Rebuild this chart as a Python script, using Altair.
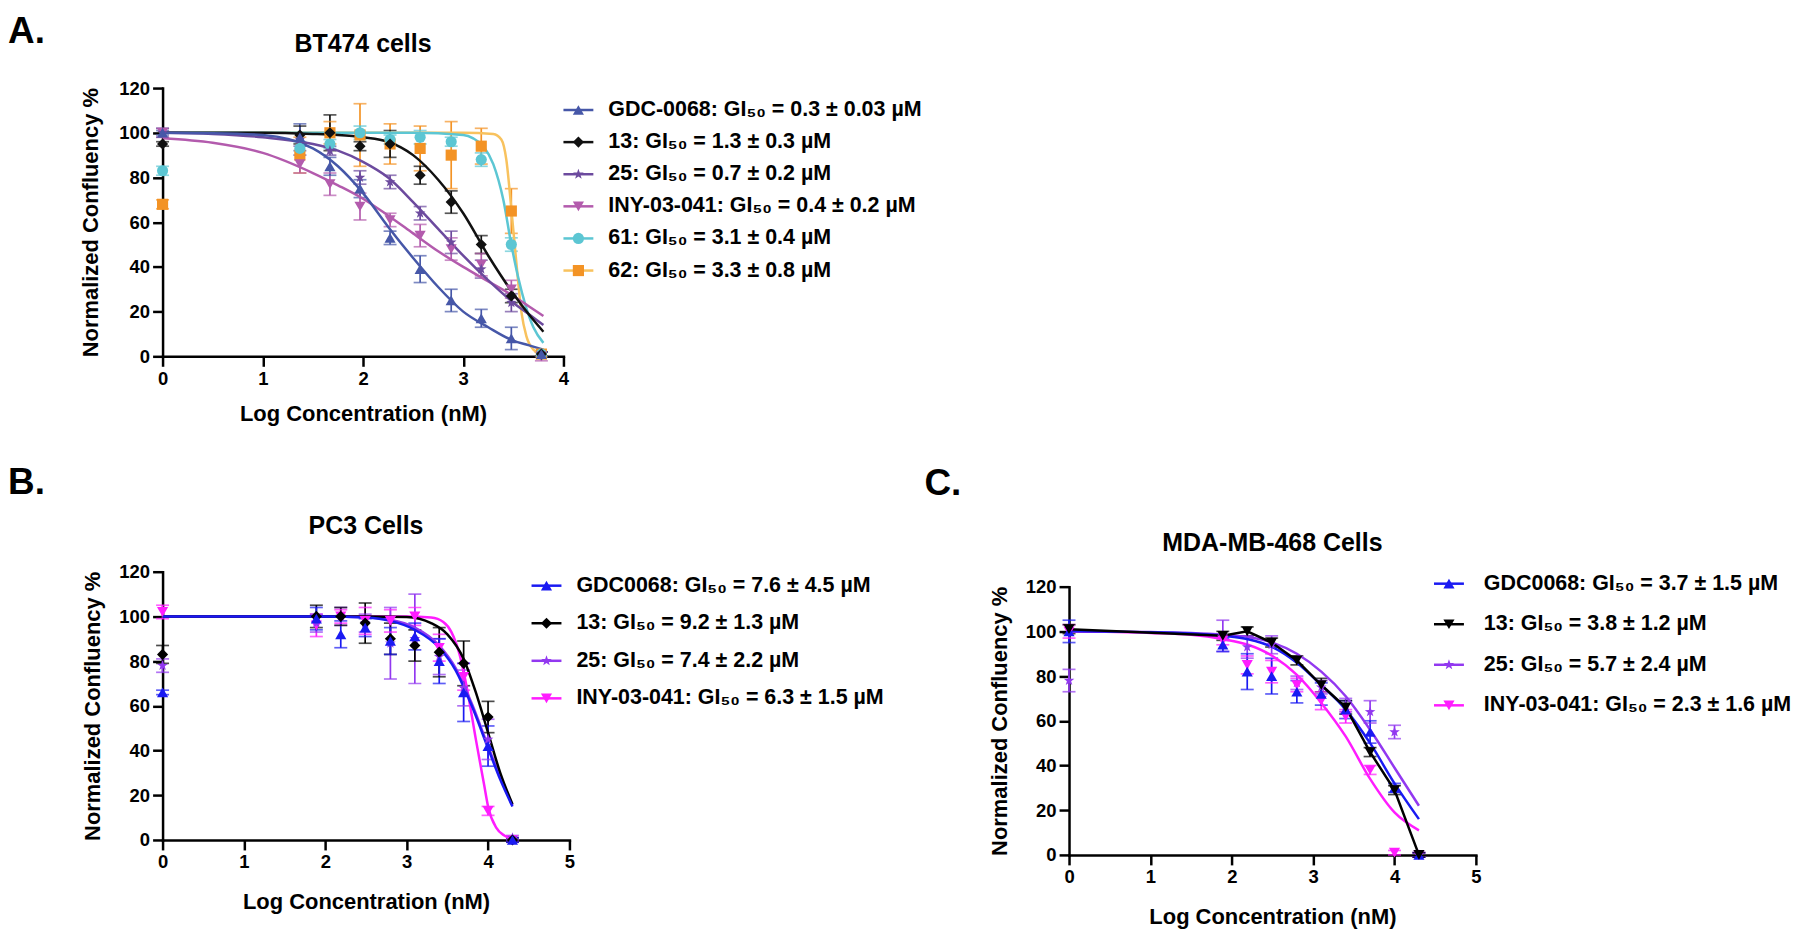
import altair as alt
import pandas as pd

FONT = "Liberation Sans"

# ---------------- shapes ----------------
STAR = "M0,-1L0.235,-0.324L0.951,-0.309L0.38,0.124L0.588,0.809L0,0.4L-0.588,0.809L-0.38,0.124L-0.951,-0.309L-0.235,-0.324Z"

# ---------------- Panel A : BT474 ----------------
A_title = "BT474 cells"
A_series = ["GDC-0068", "13", "25", "INY-03-041", "61", "62"]
A_labels = ["GDC-0068: GI₅₀ = 0.3 ± 0.03 µM", "13: GI₅₀ = 1.3 ± 0.3 µM", "25: GI₅₀ = 0.7 ± 0.2 µM",
            "INY-03-041: GI₅₀ = 0.4 ± 0.2 µM", "61: GI₅₀ = 3.1 ± 0.4 µM", "62: GI₅₀ = 3.3 ± 0.8 µM"]
A_colors = ["#4657A8", "#111111", "#6C4A9E", "#B35BAD", "#5CC6D3", "#F39325"]
A_line_colors = ["#4657A8", "#111111", "#6C4A9E", "#B35BAD", "#5CC6D3", "#F8C25E"]
A_shapes = ["triangle-up", "diamond", STAR, "triangle-down", "circle", "square"]

A_x = [0, 1.37, 1.67, 1.97, 2.27, 2.57, 2.88, 3.18, 3.48, 3.78]
A_gdc_mean = [100, 98, 85, 75, 53, 39, 25, 17, 8, 1]
A_gdc_err = [1, 6, 4, 4, 3, 6, 5, 4, 5, 1]
A_13_mean = [95, 99, 100, 94, 95, 81, 69, 50, 27, 1]
A_13_err = [1, 4, 8, 2, 6, 4, 5, 4, 3, 1]
A_25_mean = [100, 97, 92, 80, 78, 64, 51, 39, 24, 1]
A_25_err = [2, 3, 2, 3, 3, 3, 5, 4, 4, 1]
A_iny_mean = [100, 86, 77, 67, 61, 54, 48, 41, 30, 0]
A_iny_err = [2, 4, 5, 6, 3, 5, 5, 5, 4, 2]
A_61_mean = [83, 93, 95, 100, 97, 98, 96, 88, 50, 1]
A_61_err = [2, 3, 2, 3, 2, 3, 2, 3, 3, 1]
A_62_mean = [68, 90, 100, 99, 95, 93, 90, 94, 65, 1]
A_62_err = [2, 8, 5, 14, 9, 10, 15, 8, 10, 1]

A_fit_x = [0, 0.5, 1.0, 1.5, 1.75, 2.0, 2.25, 2.5, 2.75, 3.0, 3.25, 3.5, 3.65, 3.8]
A_gdc_fit = [100, 99.8, 99, 93, 85, 73, 58, 44, 31, 20, 13, 7, 5, 3]
A_13_fit = [100, 100, 100, 99.5, 99, 98, 96, 90, 79, 64, 45, 28, 19, 11]
A_25_fit = [100, 99.5, 98, 95, 92, 87, 80, 69, 57, 45, 34, 24, 19, 14]
A_iny_fit = [97.5, 95.5, 91, 82, 76.5, 70.5, 63, 55, 47, 40, 33.5, 27, 22.5, 18]
A_61_fit_x = [0, 2.5, 3.0, 3.1, 3.2, 3.3, 3.4, 3.48, 3.55, 3.62, 3.7, 3.8]
A_61_fit = [100, 100, 99, 97.5, 94, 86, 70, 50, 35, 23, 13, 6]
A_62_fit_x = [0, 3.0, 3.3, 3.38, 3.43, 3.48, 3.53, 3.58, 3.63, 3.7, 3.8]
A_62_fit = [100, 100, 99.5, 97, 88, 66, 42, 20, 9, 3, 0.5]

# ---------------- Panel B : PC3 ----------------
B_title = "PC3 Cells"
B_series = ["GDC0068", "13", "25", "INY-03-041"]
B_labels = ["GDC0068: GI₅₀ = 7.6 ± 4.5 µM", "13: GI₅₀ = 9.2 ± 1.3 µM", "25: GI₅₀ = 7.4 ± 2.2 µM",
            "INY-03-041: GI₅₀ = 6.3 ± 1.5 µM"]
B_colors = ["#1A1AF2", "#000000", "#9238F0", "#FF1CFF"]
B_shapes = ["triangle-up", "diamond", STAR, "triangle-down"]

B_x = [0, 1.89, 2.19, 2.49, 2.80, 3.10, 3.40, 3.70, 4.00, 4.30]
B_gdc_mean = [66, 99, 92, 95, 89, 91, 80, 66, 42, 0]
B_gdc_err = [1, 5, 6, 4, 6, 6, 10, 13, 9, 1]
B_13_mean = [83, 100, 100, 97, 90, 87, 84, 79, 55, 0]
B_13_err = [4, 5, 4, 9, 7, 7, 11, 10, 7, 1]
B_25_mean = [78, 97, 100, 97, 88, 90, 82, 68, 45, 1]
B_25_err = [3, 4, 4, 4, 16, 20, 8, 8, 9, 1]
B_iny_mean = [102, 96, 100, 98, 98, 100, 86, 73, 13, 0]
B_iny_err = [3, 5, 3, 6, 5, 4, 6, 6, 2, 1]

B_fit_x = [0, 1, 2, 2.5, 2.8, 3.1, 3.4, 3.6, 3.8, 4.0, 4.15, 4.3]
B_gdc_fit = [100, 100, 100, 99.5, 98, 94, 86, 76, 60, 41, 27, 15]
B_25_fit = [100, 100, 100, 99.6, 98.5, 95, 87, 77, 61, 42, 28, 15.5]
B_13_fit_x = [0, 1, 2, 2.5, 3.0, 3.3, 3.5, 3.7, 3.85, 4.0, 4.15, 4.3]
B_13_fit = [100, 100, 100, 100, 99.7, 97, 92, 81, 66, 48, 30, 16]
B_iny_fit_x = [0, 1, 2, 3.0, 3.3, 3.45, 3.55, 3.65, 3.75, 3.85, 3.95, 4.0, 4.1, 4.2, 4.3]
B_iny_fit = [100, 100, 100, 100, 99.5, 97.5, 93, 83, 66, 45, 25, 15, 5.5, 2, 0.5]

# ---------------- Panel C : MDA-MB-468 ----------------
C_title = "MDA-MB-468 Cells"
C_series = ["GDC0068", "13", "25", "INY-03-041"]
C_labels = ["GDC0068: GI₅₀ = 3.7 ± 1.5 µM", "13: GI₅₀ = 3.8 ± 1.2 µM", "25: GI₅₀ = 5.7 ± 2.4 µM",
            "INY-03-041: GI₅₀ = 2.3 ± 1.6 µM"]
C_colors = ["#1A1AF2", "#000000", "#9238F0", "#FF1CFF"]
C_shapes = ["triangle-up", "triangle-down", STAR, "triangle-down"]

C_x = [0, 1.89, 2.19, 2.49, 2.80, 3.10, 3.40, 3.70, 4.00, 4.30]
C_gdc_mean = [100, 94, 82, 80, 73, 72, 65, 55, 30, 0]
C_gdc_err = [5, 3, 8, 8, 5, 5, 4, 5, 2, 1]
C_13_mean = [101, 98, 100, 95, 87, 76, 66, 46, 29, 0]
C_13_err = [2, 2, 2, 2, 2, 3, 3, 2, 2, 1]
C_25_mean = [78, 98, 93, 94, 77, 75, 67, 64, 55, 0]
C_25_err = [5, 7, 5, 4, 3, 3, 3, 5, 3, 1]
C_iny_mean = [100, 96, 85, 82, 76, 69, 62, 38, 1, 0]
C_iny_err = [3, 2, 4, 5, 3, 4, 3, 2, 1, 1]

C_fit_x = [0, 1, 1.5, 1.9, 2.2, 2.5, 2.8, 3.1, 3.4, 3.7, 4.0, 4.3]
C_gdc_fit = [100, 99.6, 99, 98, 96.5, 93, 86, 76, 65, 50, 32, 16]
C_25_fit = [100, 99.7, 99.3, 98.5, 97.5, 95, 90, 82, 71, 56, 39, 22]
C_iny_fit = [100, 99.3, 98.5, 96.5, 94, 89, 80.5, 68, 53, 34, 19, 11]

Y_TICKS = [0, 20, 40, 60, 80, 100, 120]


def make_panel(series, labels, colors, line_colors, shapes, xs, means, errs, fits, links,
               xmax, width, height, title, title_y, letter, letter_x, letter_y,
               leg_range, leg_x1, leg_x2, leg_xt, draw_order, xpad, ypad):
    rows = []
    for s in draw_order:
        for xv, m, e in zip(xs, means[s], errs[s]):
            rows.append({"series": s, "x": xv, "mean": m, "lo": m - e, "hi": m + e})
    df_pts = pd.DataFrame(rows)

    frows = []
    for s in draw_order:
        if s in fits:
            fx, fy = fits[s]
            for xv, yv in zip(fx, fy):
                frows.append({"series": s, "x": xv, "y": yv})
    df_fit = pd.DataFrame(frows)

    xsc = alt.Scale(domain=[0, xmax], nice=False, zero=False)
    ysc = alt.Scale(domain=[0, 120], nice=False)
    color_enc = alt.Color("series:N", scale=alt.Scale(domain=series, range=colors), legend=None)
    stroke_enc = alt.Stroke("series:N", scale=alt.Scale(domain=series, range=line_colors), legend=None)
    shape_enc = alt.Shape("series:N", scale=alt.Scale(domain=series, range=shapes), legend=None)

    x_axis = alt.Axis(values=list(range(0, xmax + 1)), title="Log Concentration (nM)",
                      titlePadding=xpad, grid=False, labelFlush=False)
    y_axis = alt.Axis(values=Y_TICKS, title="Normalized Confluency %", titlePadding=ypad,
                      grid=False, labelFlush=False)
    xenc = alt.X("x:Q", scale=xsc, axis=x_axis)

    def yenc(field):
        return alt.Y(field, scale=ysc, axis=y_axis)

    err = alt.Chart(df_pts).mark_rule(strokeWidth=1.7).encode(
        x=xenc, y=yenc("lo:Q"), y2="hi:Q", color=color_enc)
    cap_lo = alt.Chart(df_pts).mark_tick(orient="horizontal", size=13, thickness=1.7).encode(
        x=xenc, y=yenc("lo:Q"), color=color_enc)
    cap_hi = alt.Chart(df_pts).mark_tick(orient="horizontal", size=13, thickness=1.7).encode(
        x=xenc, y=yenc("hi:Q"), color=color_enc)
    layers = [err, cap_lo, cap_hi]
    if len(df_fit):
        layers.append(alt.Chart(df_fit).mark_line(strokeWidth=2.5, interpolate="monotone").encode(
            x=xenc, y=yenc("y:Q"), stroke=stroke_enc))
    for s in links:
        df_l = df_pts[df_pts["series"] == s]
        layers.append(alt.Chart(df_l).mark_line(strokeWidth=2.5).encode(
            x=xenc, y=yenc("mean:Q"), stroke=stroke_enc))
    pts = alt.Chart(df_pts).mark_point(filled=True, size=125, opacity=1).encode(
        x=xenc, y=yenc("mean:Q"), color=color_enc, shape=shape_enc)
    layers.append(pts)
    data_layer = alt.layer(*layers)

    df_leg = pd.DataFrame({"series": series, "label": labels})
    yleg = alt.Y("series:N", scale=alt.Scale(type="point", domain=series, range=leg_range, padding=0),
                 axis=None)
    leg_rule = alt.Chart(df_leg).mark_rule(strokeWidth=2.5).encode(
        x=alt.value(leg_x1), x2=alt.value(leg_x2), y=yleg, stroke=stroke_enc)
    leg_pt = alt.Chart(df_leg).mark_point(filled=True, size=125, opacity=1).encode(
        x=alt.value((leg_x1 + leg_x2) / 2), y=yleg, color=color_enc, shape=shape_enc)
    leg_txt = alt.Chart(df_leg).mark_text(align="left", baseline="middle", font=FONT, fontSize=21.5,
                                          fontWeight="bold", color="black").encode(
        x=alt.value(leg_xt), y=yleg, text="label:N")
    legend_layer = alt.layer(leg_rule, leg_pt, leg_txt)

    title_txt = alt.Chart(pd.DataFrame({"t": [title]})).mark_text(
        align="center", baseline="middle", font=FONT, fontSize=25, fontWeight="bold", color="black").encode(
        x=alt.value(width / 2), y=alt.value(title_y), text="t:N")
    letter_txt = alt.Chart(pd.DataFrame({"t": [letter]})).mark_text(
        align="left", baseline="top", font=FONT, fontSize=37, fontWeight="bold", color="black").encode(
        x=alt.value(letter_x), y=alt.value(letter_y), text="t:N")

    return alt.layer(data_layer, legend_layer, title_txt, letter_txt).resolve_scale(
        y="independent").properties(width=width, height=height)


A_means = dict(zip(A_series, [A_gdc_mean, A_13_mean, A_25_mean, A_iny_mean, A_61_mean, A_62_mean]))
A_errs = dict(zip(A_series, [A_gdc_err, A_13_err, A_25_err, A_iny_err, A_61_err, A_62_err]))
A_fits = {
    "GDC-0068": (A_fit_x, A_gdc_fit), "13": (A_fit_x, A_13_fit), "25": (A_fit_x, A_25_fit),
    "INY-03-041": (A_fit_x, A_iny_fit), "61": (A_61_fit_x, A_61_fit), "62": (A_62_fit_x, A_62_fit),
}
panelA = make_panel(A_series, A_labels, A_colors, A_line_colors, A_shapes, A_x, A_means, A_errs,
                    A_fits, [], 4, 402, 269, A_title, -44, "A.", -155, -74,
                    [22, 183], 402, 432, 447, list(reversed(A_series)), 16, 16)

B_means = dict(zip(B_series, [B_gdc_mean, B_13_mean, B_25_mean, B_iny_mean]))
B_errs = dict(zip(B_series, [B_gdc_err, B_13_err, B_25_err, B_iny_err]))
B_fits = {"GDC0068": (B_fit_x, B_gdc_fit), "13": (B_13_fit_x, B_13_fit), "25": (B_fit_x, B_25_fit),
          "INY-03-041": (B_iny_fit_x, B_iny_fit)}
panelB = make_panel(B_series, B_labels, B_colors, B_colors, B_shapes, B_x, B_means, B_errs,
                    B_fits, [], 5, 408, 269, B_title, -46, "B.", -155, -107,
                    [14, 127], 370, 400, 415, list(reversed(B_series)), 20, 14)

C_means = dict(zip(C_series, [C_gdc_mean, C_13_mean, C_25_mean, C_iny_mean]))
C_errs = dict(zip(C_series, [C_gdc_err, C_13_err, C_25_err, C_iny_err]))
C_fits = {"GDC0068": (C_fit_x, C_gdc_fit), "25": (C_fit_x, C_25_fit), "INY-03-041": (C_fit_x, C_iny_fit)}
panelC = make_panel(C_series, C_labels, C_colors, C_colors, C_shapes, C_x, C_means, C_errs,
                    C_fits, ["13"], 5, 408, 269, C_title, -44, "C.", -145, -121,
                    [-3, 119], 366, 396, 416, ["25", "INY-03-041", "GDC0068", "13"], 20, 14)

spacer = alt.Chart(pd.DataFrame({"v": [0]})).mark_point(opacity=0).encode(
    x=alt.X("v:Q", axis=None), y=alt.Y("v:Q", axis=None)).properties(width=408, height=15)

INDEP = dict(color="independent", stroke="independent", shape="independent")
colC = alt.vconcat(spacer, panelC, spacing=0, bounds="flush").resolve_scale(**INDEP)
rowBC = alt.hconcat(panelB, colC, spacing=501, bounds="flush").resolve_scale(**INDEP)
chart = alt.vconcat(panelA, rowBC, spacing=216, bounds="flush").resolve_scale(**INDEP).properties(
    padding={"top": 4, "left": 0, "right": 0, "bottom": 0}, background="white"
).configure_view(stroke=None).configure_axis(
    domainColor="black", domainWidth=2.5, domainCap="square", tickColor="black", tickWidth=2.5,
    tickSize=10, labelColor="black", labelFont=FONT, labelFontSize=18.5, labelFontWeight="bold",
    labelPadding=3, titleColor="black", titleFont=FONT, titleFontSize=22, titleFontWeight="bold"
)

chart.save("out.html", embed_options={"renderer": "svg", "actions": False})
